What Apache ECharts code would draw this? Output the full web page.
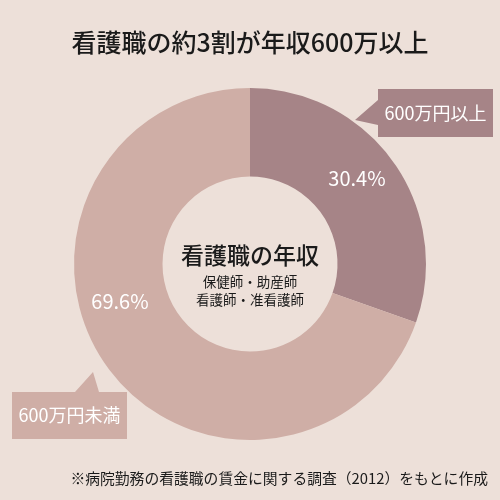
<!DOCTYPE html>
<html><head><meta charset="utf-8">
<script src="https://cdn.jsdelivr.net/npm/echarts@6/dist/echarts.min.js"></script>
<style>html,body{margin:0;padding:0;background:#ede0d9;}#c{width:500px;height:500px;}</style>
</head><body><div id="c"></div>
<script>
const categories = ['600万円以上', '600万円未満'];
const values = [30.4, 69.6];
const colors = ['#a68487', '#cfaea6'];
const titleText = '看護職の約3割が年収600万以上';
const centerTitle = '看護職の年収';
const centerSub = ['保健師・助産師', '看護師・准看護師'];
const footnote = '※病院勤務の看護職の賃金に関する調査（2012）をもとに作成';
const labelShift = [[-3, -8], [-20, -40]];

const FONT = '"Noto Sans CJK JP", "Noto Sans", sans-serif';
const chart = echarts.init(document.getElementById('c'));
chart.setOption({
  backgroundColor: '#ede0d9',
  animation: false,
  title: {
    text: titleText, left: 'center', top: 25,
    textStyle: { fontFamily: FONT, fontSize: 25, fontWeight: 500, color: '#1a1a1a' }
  },
  series: [{
    type: 'pie',
    center: [250, 264],
    radius: [87.5, 176],
    startAngle: 90,
    clockwise: true,
    silent: true,
    label: {
      show: true, position: 'inside',
      formatter: p => p.value.toFixed(1) + '%',
      color: '#ffffff', fontFamily: FONT, fontSize: 20
    },
    labelLayout: p => ({ dx: labelShift[p.dataIndex][0], dy: labelShift[p.dataIndex][1] }),
    itemStyle: { borderWidth: 0 },
    data: categories.map((c, i) => ({ name: c, value: values[i], itemStyle: { color: colors[i] } }))
  }],
  graphic: [
    { type: 'polygon', shape: { points: [[378,89],[493,89],[493,137],[378,137],[378,125],[355,120],[378,100]] }, style: { fill: colors[0] } },
    { type: 'text', x: 435.5, y: 113, style: { text: categories[0], fill: '#fff', font: '18px ' + FONT, textAlign: 'center', textVerticalAlign: 'middle' } },
    { type: 'polygon', shape: { points: [[12,392],[75,392],[93,372],[99,392],[127,392],[127,439],[12,439]] }, style: { fill: colors[1] } },
    { type: 'text', x: 69.5, y: 415, style: { text: categories[1], fill: '#fff', font: '18px ' + FONT, textAlign: 'center', textVerticalAlign: 'middle' } },
    { type: 'text', x: 250, y: 255, style: { text: centerTitle, fill: '#1a1a1a', font: '500 23px ' + FONT, textAlign: 'center', textVerticalAlign: 'middle' } },
    { type: 'text', x: 250, y: 282, style: { text: centerSub[0], fill: '#1a1a1a', font: '13.5px ' + FONT, textAlign: 'center', textVerticalAlign: 'middle' } },
    { type: 'text', x: 250, y: 300, style: { text: centerSub[1], fill: '#1a1a1a', font: '13.5px ' + FONT, textAlign: 'center', textVerticalAlign: 'middle' } },
    { type: 'text', x: 488, y: 478, style: { text: footnote, fill: '#1a1a1a', font: '14.8px ' + FONT, textAlign: 'right', textVerticalAlign: 'middle' } }
  ]
});
</script></body></html>
